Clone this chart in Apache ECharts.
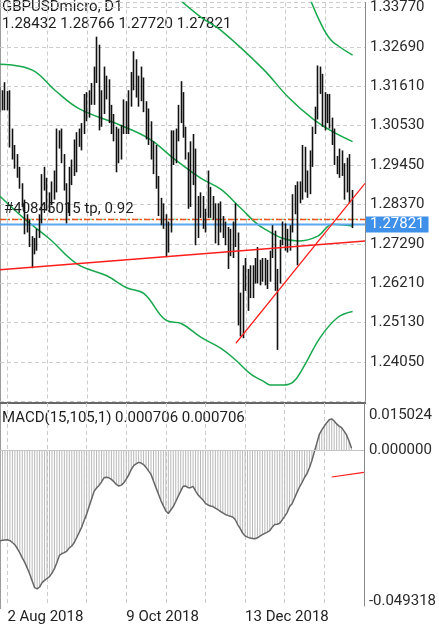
<!DOCTYPE html>
<html>
<head>
<meta charset="utf-8">
<script src="https://cdn.jsdelivr.net/npm/echarts@6/dist/echarts.min.js"></script>
<style>
  html, body { margin: 0; padding: 0; background: #fff; }
  #chart { width: 439px; height: 625px; }
</style>
</head>
<body>
<div id="chart"></div>
<script>
// daily bars, [open, close, low, high]
const bars = [
  [1.3115,1.3110,1.3090,1.3160],[1.3110,1.3125,1.3095,1.3150],[1.3125,1.3120,1.3095,1.3172],[1.3120,1.3128,1.3095,1.3148],
  [1.3128,1.3000,1.2993,1.3150],[1.3000,1.3000,1.2960,1.3045],[1.2995,1.2945,1.2935,1.3000],[1.2945,1.2925,1.2910,1.2975],
  [1.2925,1.2890,1.2880,1.2940],[1.2890,1.2835,1.2830,1.2895],[1.2835,1.2765,1.2755,1.2850],[1.2765,1.2775,1.2760,1.2810],
  [1.2775,1.2735,1.2720,1.2795],[1.2735,1.2705,1.2662,1.2750],[1.2705,1.2725,1.2700,1.2745],[1.2725,1.2750,1.2710,1.2770],
  [1.2750,1.2790,1.2745,1.2810],[1.2790,1.2910,1.2785,1.2920],[1.2910,1.2900,1.2875,1.2940],[1.2900,1.2830,1.2820,1.2910],
  [1.2830,1.2840,1.2815,1.2870],[1.2840,1.2880,1.2835,1.2900],[1.2880,1.2875,1.2850,1.2930],[1.2875,1.3010,1.2870,1.3045],
  [1.3010,1.3020,1.2990,1.3040],[1.3020,1.2975,1.2950,1.3045],[1.2975,1.2885,1.2875,1.2975],[1.2885,1.2810,1.2785,1.2895],
  [1.2810,1.2920,1.2805,1.2940],[1.2920,1.2945,1.2890,1.2960],[1.2945,1.2930,1.2915,1.3015],[1.2930,1.3030,1.2925,1.3035],
  [1.3030,1.3040,1.2995,1.3045],[1.3040,1.3040,1.2985,1.3060],[1.3040,1.3110,1.3030,1.3140],[1.3110,1.3075,1.3065,1.3145],
  [1.3075,1.3145,1.3075,1.3150],[1.3145,1.3150,1.3110,1.3170],[1.3150,1.3180,1.3110,1.3215],[1.3180,1.3260,1.3170,1.3297],
  [1.3260,1.3070,1.3040,1.3275],[1.3070,1.3095,1.3050,1.3150],[1.3095,1.3170,1.3085,1.3215],[1.3170,1.3170,1.3125,1.3190],
  [1.3170,1.3065,1.3060,1.3180],[1.3065,1.3035,1.3030,1.3110],[1.3035,1.3040,1.3010,1.3085],[1.3040,1.2970,1.2925,1.3050],
  [1.2970,1.2990,1.2950,1.3045],[1.2990,1.3050,1.2960,1.3055],[1.3050,1.3115,1.3030,1.3125],[1.3115,1.3070,1.3030,1.3120],
  [1.3070,1.3130,1.3030,1.3150],[1.3130,1.3170,1.3105,1.3200],[1.3170,1.3225,1.3150,1.3257],[1.3225,1.3150,1.3130,1.3235],
  [1.3150,1.3160,1.3105,1.3190],[1.3160,1.3170,1.3120,1.3215],[1.3170,1.3110,1.3090,1.3185],[1.3110,1.3040,1.3015,1.3120],
  [1.3040,1.3060,1.3000,1.3100],[1.3060,1.2970,1.2960,1.3065],[1.2970,1.2975,1.2920,1.3010],[1.2975,1.2895,1.2880,1.3000],
  [1.2895,1.2820,1.2805,1.2915],[1.2820,1.2815,1.2780,1.2855],[1.2815,1.2795,1.2770,1.2840],[1.2795,1.2715,1.2695,1.2810],
  [1.2715,1.2770,1.2705,1.2790],[1.2770,1.3005,1.2760,1.3040],[1.3005,1.2970,1.2945,1.3040],[1.2970,1.3040,1.2950,1.3045],
  [1.3040,1.3100,1.3010,1.3110],[1.3100,1.3140,1.3060,1.3175],[1.3140,1.3045,1.3020,1.3145],[1.3045,1.2970,1.2960,1.3050],
  [1.2970,1.2840,1.2825,1.2980],[1.2840,1.2990,1.2830,1.3010],[1.2990,1.2965,1.2890,1.3030],[1.2965,1.2775,1.2725,1.2990],
  [1.2775,1.2830,1.2745,1.2860],[1.2830,1.2850,1.2800,1.2870],[1.2850,1.2790,1.2770,1.2860],[1.2790,1.2810,1.2760,1.2825],
  [1.2810,1.2880,1.2800,1.2930],[1.2880,1.2820,1.2800,1.2885],[1.2820,1.2830,1.2795,1.2860],[1.2830,1.2735,1.2730,1.2840],
  [1.2735,1.2820,1.2725,1.2840],[1.2820,1.2775,1.2760,1.2845],[1.2775,1.2745,1.2745,1.2805],[1.2745,1.2730,1.2725,1.2790],
  [1.2730,1.2720,1.2660,1.2775],[1.2720,1.2710,1.2695,1.2770],[1.2710,1.2760,1.2690,1.2790],[1.2760,1.2750,1.2720,1.2840],
  [1.2750,1.2560,1.2505,1.2760],[1.2560,1.2490,1.2475,1.2595],[1.2490,1.2630,1.2470,1.2670],[1.2630,1.2650,1.2600,1.2690],
  [1.2650,1.2585,1.2545,1.2660],[1.2585,1.2630,1.2580,1.2670],[1.2630,1.2645,1.2580,1.2670],[1.2645,1.2650,1.2620,1.2690],
  [1.2650,1.2670,1.2620,1.2720],[1.2670,1.2640,1.2615,1.2685],[1.2640,1.2670,1.2625,1.2690],[1.2670,1.2660,1.2615,1.2690],
  [1.2660,1.2630,1.2605,1.2685],[1.2630,1.2700,1.2625,1.2710],[1.2700,1.2750,1.2690,1.2780],[1.2750,1.2615,1.2600,1.2765],
  [1.2615,1.2630,1.2438,1.2660],[1.2630,1.2730,1.2620,1.2740],[1.2730,1.2780,1.2725,1.2790],[1.2780,1.2720,1.2710,1.2785],
  [1.2720,1.2740,1.2705,1.2770],[1.2740,1.2770,1.2710,1.2780],[1.2770,1.2850,1.2760,1.2865],[1.2850,1.2870,1.2810,1.2890],
  [1.2870,1.2870,1.2670,1.2900],[1.2870,1.2860,1.2840,1.2900],[1.2860,1.2990,1.2850,1.3000],[1.2990,1.2880,1.2870,1.2995],
  [1.2880,1.2870,1.2855,1.2930],[1.2870,1.2950,1.2865,1.2985],[1.2950,1.3030,1.2940,1.3050],[1.3030,1.3080,1.3030,1.3105],
  [1.3080,1.3190,1.3070,1.3218],[1.3190,1.3180,1.3140,1.3215],[1.3180,1.3060,1.3050,1.3195],[1.3060,1.3080,1.3040,1.3145],
  [1.3080,1.3120,1.3060,1.3140],[1.3120,1.3070,1.3045,1.3140],[1.3070,1.3040,1.3000,1.3075],[1.3040,1.2950,1.2945,1.3045],
  [1.2950,1.2950,1.2920,1.2970],[1.2950,1.2950,1.2910,1.2990],[1.2950,1.2940,1.2915,1.2985],[1.2940,1.2880,1.2850,1.2950],
  [1.2880,1.2950,1.2870,1.2965],[1.2950,1.2845,1.2840,1.2975],[1.28432,1.27821,1.27720,1.28766]
];

// MACD(15,105,1) main value per bar (signal = same, period 1)
const macd = [
  -0.0286,-0.0285,-0.0284,-0.0283,-0.0286,-0.0292,-0.0299,-0.0311,-0.0325,-0.0341,
  -0.0355,-0.0373,-0.0392,-0.0414,-0.0435,-0.0439,-0.0433,-0.0419,-0.0412,-0.0406,
  -0.0400,-0.0389,-0.0375,-0.0355,-0.0333,-0.0327,-0.0324,-0.0319,-0.0309,-0.0303,
  -0.0292,-0.0276,-0.0260,-0.0243,-0.0222,-0.0202,-0.0178,-0.0154,-0.0130,-0.0119,
  -0.0111,-0.0100,-0.0087,-0.0085,-0.0087,-0.0092,-0.0099,-0.0108,-0.0113,-0.0110,
  -0.0103,-0.0091,-0.0078,-0.0061,-0.0048,-0.0043,-0.0038,-0.0040,-0.0045,-0.0054,
  -0.0065,-0.0076,-0.0097,-0.0118,-0.0138,-0.0159,-0.0176,-0.0192,-0.0200,-0.0189,
  -0.0178,-0.0162,-0.0145,-0.0129,-0.0114,-0.0113,-0.0118,-0.0118,-0.0114,-0.0129,
  -0.0141,-0.0149,-0.0157,-0.0168,-0.0173,-0.0176,-0.0178,-0.0183,-0.0188,-0.0193,
  -0.0198,-0.0203,-0.0206,-0.0209,-0.0211,-0.0219,-0.0235,-0.0247,-0.0262,-0.0271,
  -0.0275,-0.0278,-0.0279,-0.0280,-0.0277,-0.0272,-0.0267,-0.0263,-0.0259,-0.0254,
  -0.0243,-0.0235,-0.0234,-0.0231,-0.0220,-0.0209,-0.0197,-0.0178,-0.0169,-0.0151,
  -0.0133,-0.0116,-0.0102,-0.0086,-0.0074,-0.0055,-0.0032,-0.0004,0.0023,0.0051,
  0.0065,0.0077,0.0088,0.0097,0.0100,0.0093,0.0084,0.0077,0.0072,0.0061,
  0.0049,0.0030,0.0007
];

// band lines read as [bar index, price]
const bandMid = [[0,1.32217],[13,1.32053],[22,1.31508],[32,1.30990],[48,1.30554],[60,1.30173],[70,1.29628],
  [81,1.29083],[89,1.28783],[97,1.28265],[106,1.27720],[120,1.27366],[128,1.27502],[134,1.27829],[142,1.27775]];
const bandUpper = [[70,1.34124],[81,1.33500],[89,1.33143],[106,1.32080],[116,1.31317],[126,1.30718],[134,1.30364],[142,1.30091]];
const bandLower = [[0,1.28592],[10,1.27966],[20,1.27421],[31,1.26739],[43,1.26412],[51,1.26085],[58,1.25922],[67,1.25186],
  [73,1.25104],[81,1.24723],[89,1.24423],[95,1.24096],[101,1.23715],[106,1.23524],[109,1.23415],[114,1.23415],
  [118,1.23496],[122,1.23878],[129,1.24723],[136,1.25268],[142,1.25431]];
const outerUpper = [[125,1.33988],[129,1.33361],[133,1.32898],[137,1.32680],[142,1.32462]];

const trendLow = [[0,1.26576],[147,1.27366]];
const trendUp = [[95,1.24562],[147,1.28947]];
const trendMacd = [[134,-0.00843],[147,-0.00695]];

const lastPrice = 1.27821;
const tpPrice = 1.27957;
const tpText = '#40845015 tp, 0.92';
const dateLabels = [[3,'2 Aug 2018'],[51,'9 Oct 2018'],[99,'13 Dec 2018']];
const priceMin = 1.2297, priceMax = 1.33906, priceStep = 0.0108;
const macdMin = -0.049318, macdMax = 0.015024;
const macdTicks = [macdMin, 0, macdMax];

const slots = 148;
const categories = [];
for (let i = 0; i < slots; i++) categories.push('');
dateLabels.forEach(d => { categories[d[0]] = d[1]; });
const lastSlot = slots - 1;

const font = 'Roboto';
const green = '#18a74c';
const red = '#ff1c1c';
const grid = { type: [4, 3], color: '#cccccc', width: 1 };

const chart = echarts.init(document.getElementById('chart'));
chart.setOption({
  animation: false,
  backgroundColor: '#fff',
  textStyle: { fontFamily: font },
  grid: [
    { left: 0, top: 0, width: 365, height: 401.3 },
    { left: 0, top: 403, width: 365, height: 206 }
  ],
  xAxis: [
    {
      type: 'category', gridIndex: 0, data: categories, boundaryGap: false,
      axisLine: { show: false }, axisTick: { show: false }, axisLabel: { show: false },
      splitLine: { show: true, interval: (i) => (i - 3) % 16 === 0, lineStyle: grid }
    },
    {
      type: 'category', gridIndex: 1, data: categories, boundaryGap: false,
      axisLine: { show: true, lineStyle: { color: '#8a8a8a', width: 1 } },
      axisTick: { show: false },
      axisLabel: {
        interval: (i, v) => v !== '', align: 'left', margin: 4,
        fontSize: 15, color: '#222', fontFamily: font
      },
      splitLine: { show: true, interval: (i) => (i - 3) % 16 === 0, lineStyle: grid }
    }
  ],
  yAxis: [
    {
      type: 'value', gridIndex: 0, position: 'right',
      min: priceMin, max: priceMax, interval: priceStep,
      axisLine: { show: true, lineStyle: { color: '#8a8a8a' } },
      axisTick: { show: false },
      axisLabel: {
        showMinLabel: false, showMaxLabel: false, margin: 5,
        fontSize: 15, color: '#2a2a2a', fontFamily: font,
        formatter: (v) => v.toFixed(5)
      },
      splitLine: { show: true, lineStyle: grid }
    },
    {
      type: 'value', gridIndex: 1, position: 'right',
      min: macdMin, max: macdMax,
      axisLine: { show: true, lineStyle: { color: '#8a8a8a' } },
      axisTick: { show: false },
      axisLabel: {
        customValues: macdTicks, margin: 5,
        fontSize: 15, color: '#2a2a2a', fontFamily: font,
        formatter: (v) => v > 0.001 ? '{t|' + v.toFixed(6) + '}'
          : (v < -0.001 ? '{b|' + v.toFixed(6) + '}' : v.toFixed(6)),
        rich: {
          t: { padding: [25, 0, 0, 0], fontSize: 15, color: '#2a2a2a', fontFamily: font },
          b: { padding: [0, 0, 9, 0], fontSize: 15, color: '#2a2a2a', fontFamily: font }
        }
      },
      splitLine: { show: false }
    }
  ],
  graphic: [
    { type: 'line', shape: { x1: 0.5, y1: 0, x2: 0.5, y2: 609 }, style: { stroke: '#9a9a9a', lineWidth: 1 } },
    { type: 'line', shape: { x1: 0, y1: 403, x2: 366, y2: 403 }, style: { stroke: '#666', lineWidth: 2 } },
    { type: 'text', left: 2, top: 0, style: { text: 'GBPUSDmicro, D1', font: '15px Roboto', fill: '#1e1e1e' } },
    { type: 'text', left: 2, top: 17, style: { text: '1.28432 1.28766 1.27720 1.27821', font: '15px Roboto', fill: '#1e1e1e' } },
    { type: 'text', left: 4, top: 202, z: 10, style: { text: tpText, font: '15px Roboto', fill: '#1e1e1e' } },
    { type: 'text', left: 2, top: 411, style: { text: 'MACD(15,105,1) 0.000706 0.000706', font: '15px Roboto', fill: '#1e1e1e' } }
  ],
  series: [
    {
      type: 'line', xAxisIndex: 0, yAxisIndex: 0, data: bandMid, smooth: 0.4,
      showSymbol: false, lineStyle: { color: green, width: 1.5 }, z: 2
    },
    {
      type: 'line', xAxisIndex: 0, yAxisIndex: 0, data: bandUpper, smooth: 0.4,
      showSymbol: false, lineStyle: { color: green, width: 1.5 }, z: 2
    },
    {
      type: 'line', xAxisIndex: 0, yAxisIndex: 0, data: bandLower, smooth: 0.4,
      showSymbol: false, lineStyle: { color: green, width: 1.5 }, z: 2
    },
    {
      type: 'line', xAxisIndex: 0, yAxisIndex: 0, data: outerUpper, smooth: 0.4,
      showSymbol: false, lineStyle: { color: green, width: 1.5 }, z: 2
    },
    {
      // order take-profit level
      type: 'line', xAxisIndex: 0, yAxisIndex: 0, z: 3,
      data: [[0, tpPrice + 0.00007], [lastSlot, tpPrice + 0.00007]],
      showSymbol: false, lineStyle: { color: '#5cc27a', width: 1, type: [2, 4] }
    },
    {
      type: 'line', xAxisIndex: 0, yAxisIndex: 0, z: 3,
      data: [[0, tpPrice], [lastSlot, tpPrice]],
      showSymbol: false, lineStyle: { color: '#f0521e', width: 1.6, type: [6, 2, 2, 2] }
    },
    {
      // last bid line with price box on the axis
      type: 'line', xAxisIndex: 0, yAxisIndex: 0, z: 3,
      data: [[0, lastPrice], [lastSlot, lastPrice]],
      showSymbol: false, lineStyle: { color: '#5aa8f0', width: 2 },
      endLabel: {
        show: true, distance: 1, formatter: lastPrice.toFixed(5),
        fontSize: 15, lineHeight: 16, color: '#fff', backgroundColor: '#3f90e8',
        padding: [0, 4, 0, 4], fontFamily: font
      }
    },
    {
      type: 'candlestick', xAxisIndex: 0, yAxisIndex: 0, data: bars, barWidth: 1.2, z: 4,
      itemStyle: { color: '#111', color0: '#111', borderColor: '#111', borderColor0: '#111', borderWidth: 1.6 }
    },
    {
      type: 'line', xAxisIndex: 0, yAxisIndex: 0, data: trendLow,
      showSymbol: false, lineStyle: { color: red, width: 1.5 }, z: 5
    },
    {
      type: 'line', xAxisIndex: 0, yAxisIndex: 0, data: trendUp,
      showSymbol: false, lineStyle: { color: red, width: 1.2 }, z: 5
    },
    {
      type: 'bar', xAxisIndex: 1, yAxisIndex: 1, data: macd, barWidth: 1,
      itemStyle: { color: '#b8b8b8' },
      markLine: {
        silent: true, symbol: 'none', label: { show: false },
        lineStyle: { color: '#c4c4c4', width: 1, type: 'solid' },
        data: [{ yAxis: 0 }]
      }
    },
    {
      type: 'line', xAxisIndex: 1, yAxisIndex: 1, data: macd,
      showSymbol: false, lineStyle: { color: '#666', width: 1.5 }
    },
    {
      type: 'line', xAxisIndex: 1, yAxisIndex: 1, data: trendMacd,
      showSymbol: false, lineStyle: { color: red, width: 1.2 }
    }
  ]
});
</script>
</body>
</html>
